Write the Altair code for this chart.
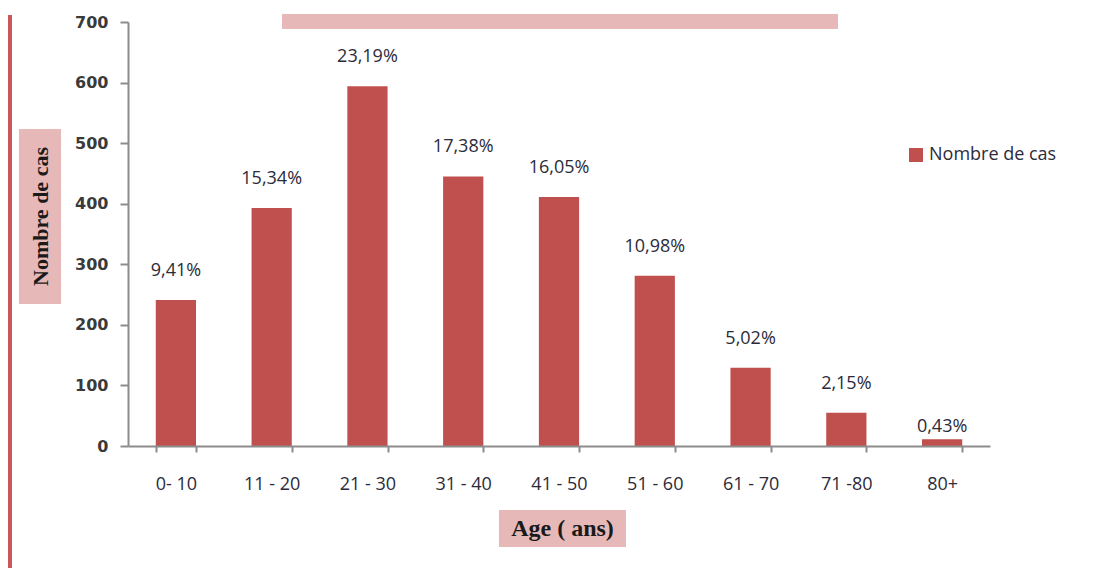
import altair as alt
import pandas as pd

# Case counts by age group, with each group's share of all cases
age_groups = ["0- 10", "11 - 20", "21 - 30", "31 - 40", "41 - 50", "51 - 60", "61 - 70", "71 -80", "80+"]
cases = [241, 393, 594, 445, 411, 281, 129, 55, 11]
shares = ["9,41%", "15,34%", "23,19%", "17,38%", "16,05%", "10,98%", "5,02%", "2,15%", "0,43%"]
y_ticks = [0, 100, 200, 300, 400, 500, 600, 700]

df = pd.DataFrame({"age": age_groups, "cases": cases, "share": shares,
                   "serie": ["Nombre de cas"] * len(age_groups)})

W, H = 862, 424
BAR = "#C0504D"
PINK = "#E6B8B7"
AXIS_GREY = "#8C8C8C"
TEXT = "#2b2b3a"
SANS = "Open Sans"

x_enc = alt.X("age:N", sort=age_groups,
              scale=alt.Scale(paddingInner=0.58, paddingOuter=0.29),
              axis=alt.Axis(title="Age ( ans)", labelAngle=0, tickBand="extent",
                            labelFont=SANS, labelFontSize=18, labelColor=TEXT,
                            labelPadding=23, tickSize=6, tickColor=AXIS_GREY,
                            domainColor=AXIS_GREY, domainWidth=2, tickWidth=2,
                            titleFont="Liberation Serif", titleFontSize=24,
                            titleFontWeight="bold", titleColor="#1a1a1a",
                            titleX=434, titleY=82, titleBaseline="middle",
                            titleAlign="center", zindex=1))

y_enc = alt.Y("cases:Q",
              scale=alt.Scale(domain=[0, 700], nice=False),
              axis=alt.Axis(title="Nombre de cas", values=y_ticks, grid=False,
                            labelFont="DejaVu Sans", labelFontSize=16,
                            labelFontWeight="bold", labelColor="#3a3a3a",
                            labelPadding=12, tickSize=8, tickColor=AXIS_GREY,
                            tickWidth=2, domainColor=AXIS_GREY, domainWidth=2,
                            titleFont="Liberation Serif", titleFontSize=22,
                            titleFontWeight="bold", titleColor="#1a1a1a",
                            titleAngle=-90, titleX=-88, titleY=194,
                            titleBaseline="middle", titleAlign="center", zindex=1))

# Background boxes behind the axis titles, the banner strip and the side rule
y_title_box = alt.Chart(df).mark_rect(color=PINK).encode(
    x=alt.value(-109), x2=alt.value(-67), y=alt.value(107), y2=alt.value(282))
x_title_box = alt.Chart(df).mark_rect(color=PINK).encode(
    x=alt.value(371), x2=alt.value(498), y=alt.value(488), y2=alt.value(525))
banner = alt.Chart(df).mark_rect(color=PINK).encode(
    x=alt.value(154), x2=alt.value(710), y=alt.value(-8), y2=alt.value(7))
side_rule = alt.Chart(df).mark_rule(color="#C9595A", strokeWidth=3).encode(
    x=alt.value(-118), y=alt.value(-7), y2=alt.value(546))

bars = alt.Chart(df).mark_bar(color=BAR).encode(
    x=x_enc, y=y_enc,
    color=alt.Color("serie:N", scale=alt.Scale(range=[BAR]),
                    legend=alt.Legend(title=None, orient="none", legendX=779,
                                      legendY=124, symbolType="square",
                                      symbolSize=196, symbolStrokeWidth=0,
                                      labelFont=SANS, labelFontSize=18,
                                      labelColor=TEXT, labelOffset=4)))

labels = alt.Chart(df).transform_filter(alt.datum.age != "80+").mark_text(
    font=SANS, fontSize=18, color=TEXT, baseline="middle", dy=-29
).encode(x=alt.X("age:N", sort=age_groups), y="cases:Q", text="share:N")

last_label = alt.Chart(df).transform_filter(alt.datum.age == "80+").mark_text(
    font=SANS, fontSize=18, color=TEXT, baseline="middle", dy=-12
).encode(x=alt.X("age:N", sort=age_groups), y="cases:Q", text="share:N")

chart = alt.layer(
    y_title_box, x_title_box, banner, side_rule, bars, labels, last_label
).properties(
    width=W, height=H,
    padding={"left": 128, "top": 22, "right": 108, "bottom": 122},
    autosize=alt.AutoSizeParams(type="none"),
    background="white",
).configure_view(stroke=None)

chart.save("out.html", embed_options={"renderer": "svg", "actions": False})
